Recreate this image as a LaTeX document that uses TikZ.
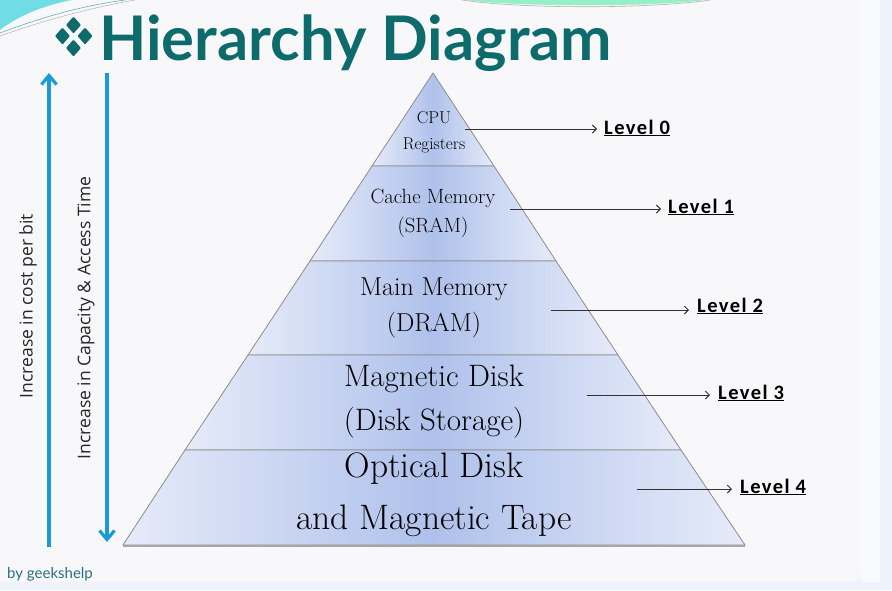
\documentclass[tikz,border=0pt]{standalone}
\usepackage{fontspec}
\usetikzlibrary{arrows.meta}
\newfontfamily\carlito{Carlito}[LetterSpace=7]
\newfontfamily\opensans{Open Sans}
\newfontfamily\lato{Lato}
\definecolor{titleteal}{HTML}{0E6B6B}
\definecolor{signteal}{HTML}{2A6E86}
\definecolor{outerbg}{HTML}{EEF2FB}
\definecolor{panelbg}{HTML}{F8F8FA}
\definecolor{pyredge}{HTML}{E6EBF9}
\definecolor{pyrmid}{HTML}{AFC1EB}
\definecolor{pyrline}{HTML}{8C8C8C}
\definecolor{arrowblue}{HTML}{1A9AD6}
\definecolor{swoosh}{HTML}{6FDCE6}
\tikzset{
  layer/.style={left color=pyredge, right color=pyredge, middle color=pyrmid, draw=pyrline, line width=0.8pt},
  layertext/.style={align=center, text=black, inner sep=0pt},
  lvlabel/.style={font=\carlito\bfseries\fontsize{20.5}{21}\selectfont, anchor=west, inner sep=0pt},
  lvarrow/.style={draw=black!80, line width=0.9pt, -{Straight Barb[length=4pt,width=8pt]}},
  bluearrow/.style={draw=arrowblue, line width=3.6pt, -{Straight Barb[length=9pt,width=15pt,line width=3.2pt]}},
  sidetext/.style={font=\opensans\fontsize{17.5}{19}\selectfont, rotate=90, text=black!85, inner sep=0pt},
  gem/.style={fill=titleteal, rounded corners=1pt}
}
\begin{document}
\begin{tikzpicture}[x=1pt,y=-1pt]
\useasboundingbox (0,0) rectangle (892,590);
% backgrounds
\fill[outerbg] (0,0) rectangle (892,590);
\fill[panelbg, rounded corners=9pt] (-20,-20) rectangle (861,582);
\fill[white!60!outerbg] (861,0) rectangle (880,582);
% decorative swooshes
\fill[swoosh] (0,0) -- (72,0) .. controls (40,6) and (15,18) .. (0,30) -- cycle;
\draw[teal!60, line width=0.6pt] (0,33) .. controls (40,18) and (80,6) .. (125,0);
\draw[gray!60, line width=0.5pt] (0,36) .. controls (45,20) and (90,8) .. (135,0);
\fill[swoosh!70!green!60] (465,0) .. controls (520,7) and (650,7) .. (705,0) -- cycle;
\draw[gray!60, line width=0.6pt] (462,0) .. controls (520,9) and (650,9) .. (710,0);
% title ornament (four diamonds)
\foreach \cx/\cy in {62.5/36, 85/36, 73.5/25, 73.5/48}{
  \fill[gem] (\cx-7.5,\cy) -- (\cx,\cy-8.5) -- (\cx+7.5,\cy) -- (\cx,\cy+8.5) -- cycle;
}
\node[anchor=base west, inner sep=0pt, text=titleteal, font=\lato\bfseries\fontsize{61.5}{62}\selectfont] (title) at (99,60) {Hierarchy Diagram};
% pyramid
\coordinate (A) at (433,73);
\coordinate (L1) at (372,166); \coordinate (R1) at (494,166);
\coordinate (L2) at (310,261); \coordinate (R2) at (556,261);
\coordinate (L3) at (248,355); \coordinate (R3) at (618,355);
\coordinate (L4) at (185,450); \coordinate (R4) at (681,450);
\coordinate (B0) at (123,545); \coordinate (B1) at (745,545);
\draw[layer] (A) -- (R1) -- (L1) -- cycle;
\draw[layer] (L1) -- (R1) -- (R2) -- (L2) -- cycle;
\draw[layer] (L2) -- (R2) -- (R3) -- (L3) -- cycle;
\draw[layer] (L3) -- (R3) -- (R4) -- (L4) -- cycle;
\draw[layer] (L4) -- (R4) -- (B1) -- (B0) -- cycle;
\draw[gray!70, line width=2pt] ([yshift=-1pt]B0) -- ([yshift=-1pt]B1);
% layer texts
\node[layertext, font=\fontsize{17.2}{26}\selectfont] (t0) at (434,132) {CPU\\Registers};
\node[layertext, font=\fontsize{20.6}{29}\selectfont] (t1) at (433,213.5) {Cache Memory\\(SRAM)};
\node[layertext, font=\fontsize{25.9}{36}\selectfont] (t2) at (434,308) {Main Memory\\(DRAM)};
\node[layertext, font=\fontsize{31}{44}\selectfont] (t3) at (434,402) {Magnetic Disk\\(Disk Storage)};
\node[layertext, font=\fontsize{35.4}{52}\selectfont] (t4) at (434,495) {Optical Disk\\and Magnetic Tape};
% level labels
\node[lvlabel] (lv0) at (604,128) {\underline{Level 0}};
\node[lvlabel] (lv1) at (668,207) {\underline{Level 1}};
\node[lvlabel] (lv2) at (697,306) {\underline{Level 2}};
\node[lvlabel] (lv3) at (718,393) {\underline{Level 3}};
\node[lvlabel] (lv4) at (740,487) {\underline{Level 4}};
\coordinate (s0) at (465,129);
\coordinate (s1) at (510,209);
\coordinate (s2) at (551,310);
\coordinate (s3) at (587,395);
\coordinate (s4) at (637,489);
\draw[lvarrow] (s0) -- ([xshift=-7pt]s0 -| lv0.west);
\draw[lvarrow] (s1) -- ([xshift=-7pt]s1 -| lv1.west);
\draw[lvarrow] (s2) -- ([xshift=-8pt]s2 -| lv2.west);
\draw[lvarrow] (s3) -- ([xshift=-8pt]s3 -| lv3.west);
\draw[lvarrow] (s4) -- ([xshift=-8pt]s4 -| lv4.west);
% side arrows
\coordinate (c1b) at (49,547);
\coordinate (c1t) at (49,73);
\coordinate (c2t) at (107,73);
\coordinate (c2b) at (107,542);
\draw[bluearrow] (c1b) -- (c1t);
\draw[bluearrow] (c2t) -- (c2b);
\node[sidetext] (cost) at (28,306) {Increase in cost per bit};
\node[sidetext] (cap) at (86,318) {Increase in Capacity \& Access Time};
% signature
\node[anchor=base west, inner sep=0pt, text=signteal, font=\lato\fontsize{15}{15}\selectfont] (sign) at (7,578) {by geekshelp};
\end{tikzpicture}
\end{document}
